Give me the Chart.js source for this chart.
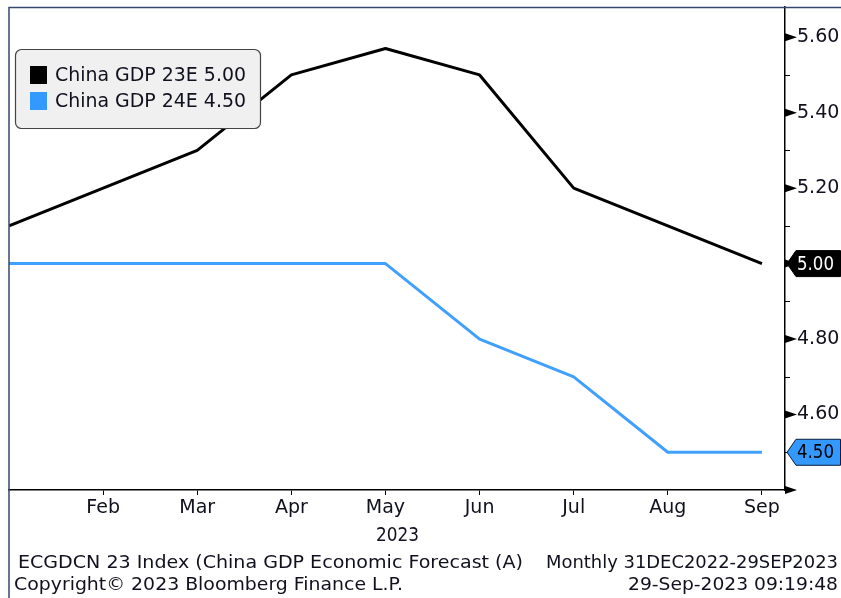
<!DOCTYPE html>
<html>
<head>
<meta charset="utf-8">
<script src="https://cdn.jsdelivr.net/npm/chart.js@4/dist/chart.umd.min.js"></script>
<style>
  html, body { margin: 0; padding: 0; background: #fff; }
  canvas { display: block; }
</style>
</head>
<body>
<canvas id="c" width="841" height="598"></canvas>
<script>
// Monthly consensus forecasts for China real GDP growth (%), 2023
const months = ['Jan', 'Feb', 'Mar', 'Apr', 'May', 'Jun', 'Jul', 'Aug', 'Sep'];
const gdp23E = [5.10, 5.20, 5.30, 5.50, 5.57, 5.50, 5.20, 5.10, 5.00];
const gdp24E = [5.00, 5.00, 5.00, 5.00, 5.00, 4.80, 4.70, 4.50, 4.50];
const seriesNames = ['China GDP 23E', 'China GDP 24E'];
const yMajorTicks = [4.40, 4.60, 4.80, 5.00, 5.20, 5.40, 5.60];
const yMinorTicks = [4.50, 4.70, 4.90, 5.10, 5.30, 5.50];
const yLabelled = [4.60, 4.80, 5.20, 5.40, 5.60];
const yearLabel = '2023';
const footerLeft = ['ECGDCN 23 Index (China GDP Economic Forecast (A)', 'Copyright\u00a9 2023 Bloomberg Finance L.P.'];
const footerRight = ['Monthly 31DEC2022-29SEP2023', '29-Sep-2023 09:19:48'];

const FONT = '"DejaVu Sans", sans-serif';
const BLACK = '#000000';
const BLUE = '#40a0ff';
const TEXT = '#10101e';

function toPoints(arr) { return arr.map((v, i) => ({ x: i, y: v })); }

// Draw text squeezed/stretched horizontally to a given width
function fitText(ctx, text, x, y, width, size, color, align) {
  ctx.save();
  ctx.font = size + 'px ' + FONT;
  ctx.fillStyle = color;
  ctx.textBaseline = 'middle';
  ctx.textAlign = 'left';
  const w = ctx.measureText(text).width;
  const sx = width / w;
  const left = align === 'right' ? x - width : (align === 'center' ? x - width / 2 : x);
  ctx.translate(left, y);
  ctx.scale(sx, 1);
  ctx.fillText(text, 0, 0);
  ctx.restore();
}

const decor = {
  id: 'decor',
  afterDraw(chart) {
    const ctx = chart.ctx;
    const xs = chart.scales.x, ys = chart.scales.y;
    const area = chart.chartArea;
    const axX = area.right;

    // window frame
    ctx.save();
    ctx.strokeStyle = '#34496f';
    ctx.lineWidth = 1.5;
    ctx.beginPath();
    ctx.moveTo(9, 598); ctx.lineTo(9, 7.5); ctx.lineTo(841, 7.5);
    ctx.stroke();
    ctx.restore();

    // right axis: minor ticks and major arrowheads
    ctx.save();
    ctx.strokeStyle = BLACK;
    ctx.lineWidth = 1;
    yMinorTicks.forEach(v => {
      const y = Math.round(ys.getPixelForValue(v)) + 0.5;
      ctx.beginPath(); ctx.moveTo(axX, y); ctx.lineTo(axX + 5, y); ctx.stroke();
    });
    ctx.fillStyle = BLACK;
    yMajorTicks.forEach(v => {
      const y = ys.getPixelForValue(v);
      ctx.beginPath();
      ctx.moveTo(axX, y - 4); ctx.lineTo(axX + 12, y); ctx.lineTo(axX, y + 4);
      ctx.closePath(); ctx.fill();
    });
    ctx.restore();

    // last-value badges
    const badges = [
      { v: gdp23E[gdp23E.length - 1], fill: BLACK, stroke: BLACK, text: '#ffffff' },
      { v: gdp24E[gdp24E.length - 1], fill: '#3399ff', stroke: '#0a1a3a', text: '#000000' }
    ];
    badges.forEach(b => {
      const y = ys.getPixelForValue(b.v);
      ctx.save();
      ctx.beginPath();
      ctx.moveTo(axX + 2, y);
      ctx.lineTo(axX + 11, y - 13);
      ctx.lineTo(840.5, y - 13);
      ctx.lineTo(840.5, y + 13);
      ctx.lineTo(axX + 11, y + 13);
      ctx.closePath();
      ctx.fillStyle = b.fill; ctx.fill();
      ctx.strokeStyle = b.stroke; ctx.lineWidth = 1; ctx.stroke();
      ctx.restore();
      fitText(ctx, b.v.toFixed(2), axX + 12, y + 1, 37, 19, b.text, 'left');
    });

    // year under the month axis
    fitText(ctx, yearLabel, xs.getPixelForValue(4) + 12, 536, 43, 19, TEXT, 'center');

    // footer
    fitText(ctx, footerLeft[0], 18, 563, 505, 18, TEXT, 'left');
    fitText(ctx, footerRight[0], 838, 563, 292, 18, TEXT, 'right');
    fitText(ctx, footerLeft[1], 14, 585, 389, 18, TEXT, 'left');
    fitText(ctx, footerRight[1], 838, 585, 210, 18, TEXT, 'right');

    // legend
    ctx.save();
    const lx = 15.5, ly = 49.5, lw = 245, lh = 79, r = 6;
    ctx.beginPath();
    ctx.moveTo(lx + r, ly);
    ctx.arcTo(lx + lw, ly, lx + lw, ly + lh, r);
    ctx.arcTo(lx + lw, ly + lh, lx, ly + lh, r);
    ctx.arcTo(lx, ly + lh, lx, ly, r);
    ctx.arcTo(lx, ly, lx + lw, ly, r);
    ctx.closePath();
    ctx.fillStyle = '#f0f0f0'; ctx.fill();
    ctx.strokeStyle = '#444'; ctx.lineWidth = 1.2; ctx.stroke();
    const swatches = [BLACK, '#3399ff'];
    const lastVals = [gdp23E[gdp23E.length - 1], gdp24E[gdp24E.length - 1]];
    seriesNames.forEach((name, i) => {
      const cy = 75 + i * 26;
      ctx.fillStyle = swatches[i];
      ctx.fillRect(30, cy - 9, 17, 18);
      fitText(ctx, name + ' ' + lastVals[i].toFixed(2), 55, cy + 1, 191, 20, TEXT, 'left');
    });
    ctx.restore();
  }
};

new Chart(document.getElementById('c'), {
  type: 'line',
  data: {
    datasets: [
      { label: seriesNames[0], data: toPoints(gdp23E), borderColor: BLACK, borderWidth: 3,
        pointRadius: 0, tension: 0, fill: false, borderJoinStyle: 'round' },
      { label: seriesNames[1], data: toPoints(gdp24E), borderColor: BLUE, borderWidth: 3,
        pointRadius: 0, tension: 0, fill: false, borderJoinStyle: 'round' }
    ]
  },
  options: {
    responsive: false,
    animation: false,
    events: [],
    layout: { padding: { left: 9, top: 7, right: 0, bottom: 0 } },
    plugins: { legend: { display: false }, tooltip: { enabled: false } },
    scales: {
      x: {
        type: 'linear',
        min: 0,
        max: 8.245,
        afterBuildTicks: s => { s.ticks = months.slice(1).map((m, i) => ({ value: i + 1 })); },
        afterFit: s => { s.height = 108; s.paddingLeft = 0; s.paddingRight = 0; },
        ticks: {
          callback: v => months[v],
          color: TEXT,
          font: { family: FONT, size: 19 },
          padding: 2,
          maxRotation: 0,
          autoSkip: false
        },
        grid: { drawOnChartArea: false, drawTicks: true, tickLength: 5, color: BLACK, lineWidth: 1 },
        border: { display: true, color: BLACK, width: 1.5 }
      },
      y: {
        position: 'right',
        min: 4.40,
        max: 5.68,
        afterBuildTicks: s => { s.ticks = yMajorTicks.map(v => ({ value: v })); },
        afterFit: s => { s.width = 56; s.paddingTop = 0; s.paddingBottom = 0; },
        ticks: {
          callback: v => yLabelled.some(t => Math.abs(t - v) < 1e-6) ? v.toFixed(2) : '',
          color: TEXT,
          font: { family: FONT, size: 19 },
          padding: 12
        },
        grid: { drawOnChartArea: false, drawTicks: false },
        border: { display: true, color: BLACK, width: 1.5 }
      }
    }
  },
  plugins: [decor]
});
</script>
</body>
</html>
